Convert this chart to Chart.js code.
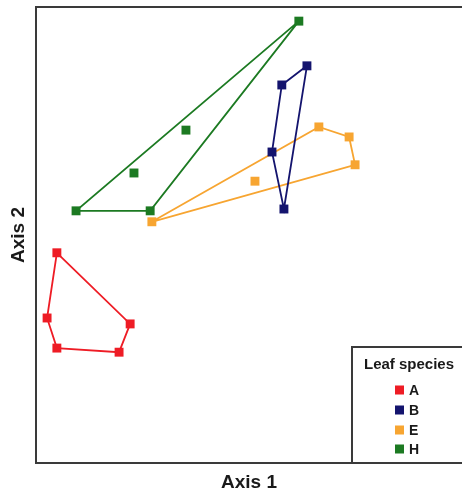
<!DOCTYPE html>
<html>
<head>
<meta charset="utf-8">
<script src="https://cdn.jsdelivr.net/npm/chart.js@4"></script>
<style>
html,body{margin:0;padding:0;background:#fff;}
#wrap{width:462px;height:494px;position:relative;}
</style>
</head>
<body>
<div id="wrap"><canvas id="c" width="462" height="494"></canvas></div>
<script>
// Species (legend categories)
const categories = ['A', 'B', 'E', 'H'];
const colors = ['#ee1c25', '#14146e', '#f7a531', '#1c7a22'];

// Ordination scores (Axis 1, Axis 2)
const axis1A = [4.9, 22.1, 19.5, 4.9, 2.6];
const axis2A = [46.1, 30.5, 24.3, 25.2, 31.8];
const axis1B = [63.6, 57.7, 55.4, 58.2];
const axis2B = [87.1, 82.9, 68.2, 55.7];
const axis1E = [27.2, 66.4, 73.5, 74.9, 51.4];
const axis2E = [52.9, 73.7, 71.5, 65.4, 61.8];
const axis1H = [61.7, 9.4, 26.8, 23.0, 35.2];
const axis2H = [96.9, 55.3, 55.3, 63.6, 73.0];

// Convex hull vertex order (indices into the arrays above)
const hullA = [0, 1, 2, 3, 4, 0];
const hullB = [0, 1, 2, 3, 0];
const hullE = [0, 1, 2, 3, 0];
const hullH = [0, 1, 2, 0];

const axisTitles = ['Axis 1', 'Axis 2'];
const legendTitle = 'Leaf species';

const xs = [axis1A, axis1B, axis1E, axis1H];
const ys = [axis2A, axis2B, axis2E, axis2H];
const hulls = [hullA, hullB, hullE, hullH];

const datasets = [];
categories.forEach((cat, i) => {
  datasets.push({
    type: 'scatter',
    label: cat,
    data: xs[i].map((x, j) => ({x: x, y: ys[i][j]})),
    pointStyle: 'rect',
    pointRadius: 6.3,
    pointHoverRadius: 6.3,
    backgroundColor: colors[i],
    borderColor: colors[i],
    borderWidth: 0,
    showLine: false,
    order: 1
  });
  datasets.push({
    type: 'scatter',
    label: cat + ' hull',
    data: hulls[i].map(k => ({x: xs[i][k], y: ys[i][k]})),
    showLine: true,
    pointRadius: 0,
    borderColor: colors[i],
    backgroundColor: 'transparent',
    borderWidth: 1.8,
    fill: false,
    tension: 0,
    order: 2
  });
});

const framePlugin = {
  id: 'frame',
  afterDraw(chart) {
    const ctx = chart.ctx;
    const a = chart.chartArea;
    ctx.save();
    ctx.strokeStyle = '#3a3a3a';
    ctx.lineWidth = 2;
    ctx.beginPath();
    ctx.moveTo(a.right + 2, a.top);
    ctx.lineTo(a.left, a.top);
    ctx.lineTo(a.left, a.bottom);
    ctx.lineTo(a.right + 2, a.bottom);
    ctx.stroke();

    // legend box
    const bx = 352, by = 347;
    ctx.beginPath();
    ctx.moveTo(a.right + 2, by);
    ctx.lineTo(bx, by);
    ctx.lineTo(bx, a.bottom);
    ctx.stroke();
    ctx.fillStyle = '#1a1a1a';
    ctx.font = 'bold 15px "Liberation Sans", Arial, sans-serif';
    ctx.textAlign = 'center';
    ctx.textBaseline = 'middle';
    ctx.fillText(legendTitle, 409, 365);
    const rows = [390, 410, 430, 449];
    ctx.textAlign = 'left';
    ctx.font = 'bold 14px "Liberation Sans", Arial, sans-serif';
    categories.forEach((cat, i) => {
      ctx.fillStyle = colors[i];
      ctx.fillRect(395, rows[i] - 4.5, 9, 9);
      ctx.fillStyle = '#1a1a1a';
      ctx.fillText(cat, 409, rows[i] + 1);
    });
    ctx.restore();
  }
};

new Chart(document.getElementById('c'), {
  type: 'scatter',
  data: { datasets: datasets },
  options: {
    responsive: false,
    animation: false,
    devicePixelRatio: 1,
    layout: { autoPadding: false, padding: { top: 7, right: 0, left: 0, bottom: 0 } },
    plugins: {
      legend: { display: false },
      tooltip: { enabled: false }
    },
    scales: {
      x: {
        type: 'linear', min: 0, max: 100,
        ticks: { display: false },
        grid: { display: false },
        border: { display: false },
        title: {
          display: true, text: axisTitles[0], color: '#1a1a1a',
          font: { family: '"Liberation Sans", Arial, sans-serif', size: 19, weight: 'bold' },
          padding: { top: 5, bottom: 0 }
        },
        afterFit(axis) { axis.height = 31; }
      },
      y: {
        type: 'linear', min: 0, max: 100,
        ticks: { display: false },
        grid: { display: false },
        border: { display: false },
        title: {
          display: true, text: axisTitles[1], color: '#1a1a1a',
          font: { family: '"Liberation Sans", Arial, sans-serif', size: 19, weight: 'bold' },
          padding: { top: 7, bottom: 4 }
        },
        afterFit(axis) { axis.width = 36; }
      }
    }
  },
  plugins: [framePlugin]
});
</script>
</body>
</html>
